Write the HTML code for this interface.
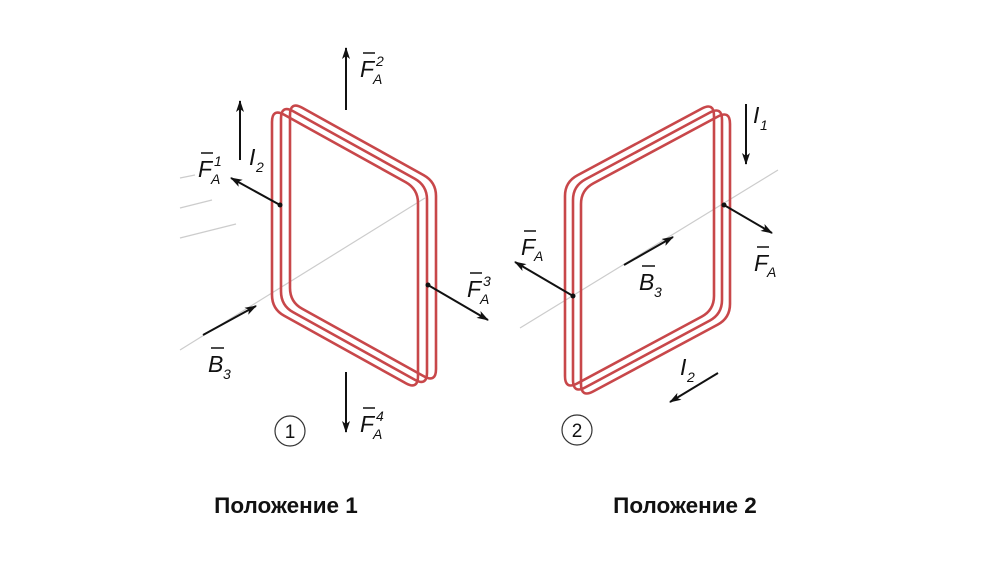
<!DOCTYPE html>
<html><head><meta charset="utf-8"><style>
html,body{margin:0;padding:0;background:#fff;}
svg{display:block}
text{font-family:"Liberation Sans",sans-serif;fill:#111;}
.it{font-style:italic;font-size:23px}
.sub{font-style:italic;font-size:14px}
</style></head><body>
<svg width="1000" height="563" viewBox="0 0 1000 563">
<defs>
<marker id="ar" markerWidth="12" markerHeight="8" refX="11" refY="4" orient="auto" markerUnits="userSpaceOnUse">
<path d="M0,0 L12,4 L0,8 L3,4 Z" fill="#111"/></marker>
<path id="L1" d="M284.2,114.8 L405.8,182.2 Q418,189 418,203 L418,376 Q418,390 405.8,383.2 L284.2,315.8 Q272,309 272,295 L272,122 Q272,108 284.2,114.8 Z"/>
<path id="L2" d="M577.3,175.4 L701.7,108.6 Q714,102 714,116 L714,296 Q714,310 701.7,316.6 L577.3,383.4 Q565,390 565,376 L565,196 Q565,182 577.3,175.4 Z"/>
</defs>
<g stroke="#ccc" stroke-width="1.2" fill="none">
<line x1="180" y1="350" x2="425" y2="198"/>
<line x1="180" y1="178" x2="195" y2="175"/>
<line x1="180" y1="208" x2="212" y2="200"/>
<line x1="180" y1="238" x2="236" y2="224"/>
<line x1="520" y1="328" x2="778" y2="170"/>
</g>
<g fill="none" stroke="#c8474a" stroke-width="2.6">
<use href="#L1" transform="translate(18,-7)"/>
<use href="#L1" transform="translate(9,-3.5)"/>
<use href="#L1"/>
</g>
<g fill="none" stroke="#c8474a" stroke-width="2.6">
<use href="#L2" transform="translate(16,8)"/>
<use href="#L2" transform="translate(8,4)"/>
<use href="#L2"/>
</g>
<g stroke="#111" stroke-width="2" fill="none" marker-end="url(#ar)">
<line x1="346" y1="110" x2="346" y2="48"/>
<line x1="240" y1="160" x2="240" y2="101"/>
<line x1="280" y1="205" x2="231" y2="178"/>
<line x1="203" y1="335" x2="256" y2="306"/>
<line x1="428" y1="285" x2="488" y2="320"/>
<line x1="346" y1="372" x2="346" y2="432"/>
<line x1="746" y1="104" x2="746" y2="164"/>
<line x1="724" y1="205" x2="772" y2="233"/>
<line x1="573" y1="296" x2="515" y2="262"/>
<line x1="624" y1="265" x2="673" y2="237"/>
<line x1="718" y1="373" x2="670" y2="402"/>
</g>
<g fill="#111">
<circle cx="280" cy="205" r="2.5"/><circle cx="428" cy="285" r="2.5"/>
<circle cx="724" cy="205" r="2.5"/><circle cx="573" cy="296" r="2.5"/>
</g>
<g stroke="#111" stroke-width="1.5">
<line x1="363" y1="53" x2="375" y2="53"/>
<line x1="201" y1="153" x2="213" y2="153"/>
<line x1="470" y1="273" x2="482" y2="273"/>
<line x1="363" y1="408" x2="375" y2="408"/>
<line x1="211" y1="348" x2="224" y2="348"/>
<line x1="524" y1="231" x2="536" y2="231"/>
<line x1="757" y1="247" x2="769" y2="247"/>
<line x1="642" y1="266" x2="655" y2="266"/>
</g>
<text x="360" y="77" class="it">F</text><text x="373" y="84" class="sub">A</text><text x="376" y="66" class="sub">2</text>
<text x="198" y="177" class="it">F</text><text x="211" y="184" class="sub">A</text><text x="214" y="166" class="sub">1</text>
<text x="249" y="165" class="it">I</text><text x="256" y="172" class="sub">2</text>
<text x="467" y="297" class="it">F</text><text x="480" y="304" class="sub">A</text><text x="483" y="286" class="sub">3</text>
<text x="360" y="432" class="it">F</text><text x="373" y="439" class="sub">A</text><text x="376" y="421" class="sub">4</text>
<text x="208" y="372" class="it">B</text><text x="223" y="379" class="sub">3</text>
<text x="753" y="123" class="it">I</text><text x="760" y="130" class="sub">1</text>
<text x="521" y="255" class="it">F</text><text x="534" y="261" class="sub">A</text>
<text x="754" y="271" class="it">F</text><text x="767" y="277" class="sub">A</text>
<text x="639" y="290" class="it">B</text><text x="654" y="297" class="sub">3</text>
<text x="680" y="375" class="it">I</text><text x="687" y="382" class="sub">2</text>
<circle cx="290" cy="431" r="15" fill="none" stroke="#333" stroke-width="1.2"/>
<text x="290" y="438" font-size="19" text-anchor="middle" fill="#333">1</text>
<circle cx="577" cy="430" r="15" fill="none" stroke="#333" stroke-width="1.2"/>
<text x="577" y="437" font-size="19" text-anchor="middle" fill="#333">2</text>
<text x="286" y="513" font-size="22.5" font-weight="bold" text-anchor="middle">Положение 1</text>
<text x="685" y="513" font-size="22.5" font-weight="bold" text-anchor="middle">Положение 2</text>
</svg>
</body></html>
